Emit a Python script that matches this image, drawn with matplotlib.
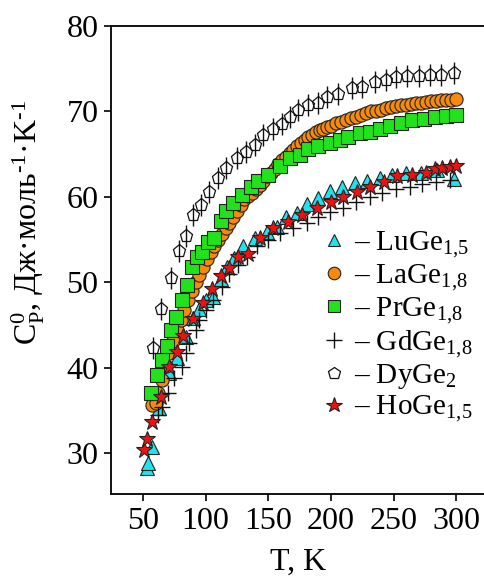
import matplotlib
matplotlib.use("Agg")
import matplotlib.pyplot as plt

plt.rcParams['font.family'] = ['Liberation Serif', 'DejaVu Serif']
plt.rcParams['mathtext.fontset'] = 'custom'
plt.rcParams['mathtext.rm'] = 'Liberation Serif'
plt.rcParams['mathtext.it'] = 'Liberation Serif:italic'

# heat capacity Cp(T) for the rare-earth germanides
T_lu = [53, 54, 57, 63, 71, 77, 84, 90, 95, 100, 106, 112, 117, 123, 130, 139, 149, 157,
        164, 173, 181, 190, 199, 209, 219, 229, 239, 249, 260, 272, 285, 298]
cp_lu = [28.3, 28.8, 30.7, 35.3, 39.4, 41.1, 43.6, 45.8, 46.9, 47.9, 48.3, 50.4, 51.8, 52.9,
         54.2, 55.2, 55.9, 56.5, 57.7, 58.1, 59.2, 59.9, 60.7, 61.1, 61.6, 61.9, 62.2, 62.6,
         62.8, 62.8, 63.2, 62.1]

T_la = [57, 60, 62, 65, 68, 71, 74, 77, 80, 83, 86, 89, 92, 95, 98, 101, 104, 107, 110, 113,
        116, 119, 122, 125, 128, 131, 134, 137, 140, 143, 146, 149, 152, 155, 158, 161, 164,
        167, 170, 173, 176, 179, 182, 185, 188, 191, 194, 197, 200, 204, 208, 212, 216, 220,
        224, 228, 232, 236, 240, 244, 248, 252, 256, 260, 264, 268, 272, 276, 280, 284, 288,
        292, 296, 300]
cp_la = [35.6, 35.9, 37.0, 38.6, 40.2, 41.7, 43.1, 44.4, 45.6, 46.8, 47.9, 49.0, 50.0, 50.9,
         51.8, 52.7, 53.5, 54.3, 55.0, 55.7, 56.4, 57.0, 57.7, 58.3, 59.1, 59.7, 60.1, 60.5,
         60.9, 61.4, 61.9, 62.4, 62.8, 63.3, 63.8, 64.3, 64.7, 65.1, 65.5, 65.9, 66.3, 66.7,
         67.0, 67.3, 67.6, 67.8, 68.0, 68.2, 68.3, 68.6, 68.8, 69.0, 69.2, 69.4, 69.6, 69.8,
         70.0, 70.1, 70.2, 70.4, 70.5, 70.6, 70.7, 70.8, 70.9, 71.0, 71.0, 71.1, 71.2, 71.2,
         71.3, 71.3, 71.3, 71.4]

T_pr = [56, 61, 65, 69, 72, 76, 81, 85, 89, 93, 97, 102, 107, 112, 116, 122, 129, 136, 142,
        150, 159, 167, 175, 182, 190, 199, 207, 214, 223, 231, 239, 247, 256, 265, 274, 283,
        292, 300]
cp_pr = [37.0, 39.1, 40.9, 42.5, 44.4, 45.9, 47.9, 49.7, 51.8, 53.0, 53.6, 54.7, 55.2, 57.2,
         58.3, 59.3, 60.2, 61.1, 61.9, 62.6, 63.6, 64.6, 64.9, 65.6, 65.9, 66.3, 66.6, 67.0,
         67.5, 67.6, 67.9, 68.3, 68.7, 69.0, 69.1, 69.3, 69.5, 69.6]

T_gd = [62, 65, 70, 75, 81, 84, 87, 92, 95, 100, 106, 113, 119, 126, 133, 141, 150, 159, 170,
        181, 190, 199, 210, 220, 231, 241, 252, 263, 273, 284, 295]
cp_gd = [34.5, 35.4, 37.0, 38.8, 40.1, 41.7, 42.9, 44.4, 45.6, 46.8, 47.9, 49.5, 51.0, 52.0,
         53.0, 54.2, 55.0, 55.8, 56.4, 57.0, 57.6, 58.2, 58.7, 59.4, 60.0, 60.5, 60.9, 61.2,
         61.5, 61.8, 62.0]

T_dy = [58, 64, 72, 79, 84, 90, 96, 103, 110, 116, 125, 132, 139, 146, 154, 161, 167, 174,
        182, 190, 197, 206, 217, 225, 235, 244, 252, 261, 270, 279, 288, 298]
cp_dy = [42.3, 46.9, 50.5, 53.7, 55.4, 57.9, 59.0, 60.6, 62.2, 63.4, 64.6, 65.2, 66.1, 67.3,
         67.9, 68.5, 69.3, 70.2, 70.8, 71.0, 71.7, 72.0, 72.7, 72.9, 73.5, 73.7, 74.0, 74.1,
         74.2, 74.3, 74.3, 74.5]

T_ho = [51, 53, 57, 64, 71, 77, 82, 90, 98, 105, 112, 119, 126, 134, 143, 154, 166, 177, 189,
        200, 210, 221, 231, 242, 253, 265, 276, 283, 289, 295, 300]
cp_ho = [30.4, 31.7, 33.6, 36.6, 40.1, 41.8, 43.7, 45.7, 47.6, 49.2, 50.7, 51.7, 53.0, 53.3,
         55.2, 56.3, 57.1, 57.9, 58.7, 59.4, 60.0, 60.6, 61.1, 61.7, 62.4, 62.6, 62.8, 63.3,
         63.4, 63.5, 63.6]

labels = ['– LuGe$_{1{,}5}$', '– LaGe$_{1{,}8}$', '– PrGe$_{1{,}8}$',
          '– GdGe$_{1{,}8}$', '– DyGe$_{2}$', '– HoGe$_{1{,}5}$']

fig = plt.figure(figsize=(4.85, 5.78), dpi=100)
ax = fig.add_axes([0.229, 0.145, 0.771, 0.81])

ec = '#222222'
ms = 9.5
ax.plot(T_lu, cp_lu, ls='none', marker='^', ms=ms, mfc='#1ee3ec', mec=ec, mew=0.8,
        label=labels[0])
ax.plot(T_la, cp_la, ls='none', marker='o', ms=ms, mfc='#f7890d', mec=ec, mew=0.8,
        label=labels[1])
ax.plot(T_pr, cp_pr, ls='none', marker='s', ms=ms, mfc='#22e21c', mec=ec, mew=0.8,
        label=labels[2])
ax.plot(T_gd, cp_gd, ls='none', marker='+', ms=12, mec='#111111', mew=1.0,
        label=labels[3])
ax.plot(T_dy, cp_dy, ls='none', marker='|', ms=16, mec='#111111', mew=1.0)
ax.plot(T_dy, cp_dy, ls='none', marker='p', ms=ms, mfc='none', mec='#111111', mew=0.9,
        label=labels[4])
ax.plot(T_ho, cp_ho, ls='none', marker='*', ms=12, mfc='#ee1111', mec=ec, mew=0.8,
        label=labels[5])

ax.set_xlim(24.5, 323)
ax.set_ylim(25.2, 80)
ax.set_xticks([50, 100, 150, 200, 250, 300])
ax.set_yticks([30, 40, 50, 60, 70, 80])
ax.tick_params(labelsize=23, length=5, width=1.2, direction='out', pad=4)
for s in ['left', 'bottom', 'top']:
    ax.spines[s].set_linewidth(1.3)
ax.spines['right'].set_visible(False)

ax.set_xlabel('T, K', fontsize=23, labelpad=9)
ax.set_ylabel('C$^{0}_{\\rm P}$, Дж·моль$^{\\text{-}1}$·K$^{\\text{-}1}$', fontsize=23,
              labelpad=10)
ax.yaxis.set_label_coords(-0.17, 0.58)

ax.legend(loc='upper left', bbox_to_anchor=(0.565, 0.565), frameon=False, fontsize=21,
          handlelength=0.8, handletextpad=0.3, labelspacing=0.08, borderpad=0,
          borderaxespad=0, markerscale=0.95)

fig.savefig('out.png', dpi=100)
